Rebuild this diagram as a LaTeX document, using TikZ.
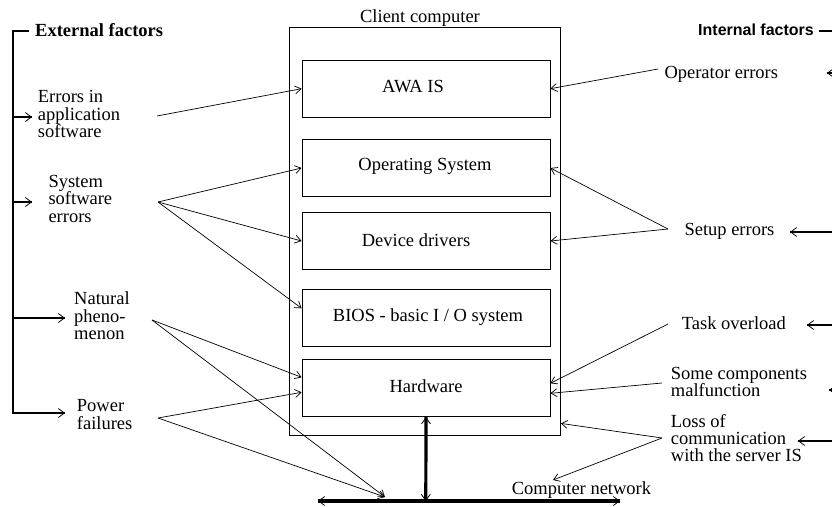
\documentclass[tikz,border=0pt]{standalone}
\usepackage{fontspec}
\setmainfont{Liberation Serif}
\newfontfamily\arialb{Liberation Sans}
\usetikzlibrary{arrows.meta,calc}
\begin{document}
\begin{tikzpicture}[x=1pt,y=-1pt,
  txt/.style={inner sep=0pt, anchor=base west, align=left, font=\fontsize{18.5}{17.3}\selectfont},
  ctxt/.style={inner sep=0pt, anchor=base, font=\fontsize{18.5}{17.3}\selectfont},
  box/.style={draw, line width=0.8pt, minimum width=248pt, minimum height=57pt, inner sep=0pt},
  arr/.style={line width=0.7pt, -{Straight Barb[length=6pt,width=8pt]}},
  thk/.style={line width=2.8pt},
  tip/.style={line width=0.8pt, -{Straight Barb[length=6pt,width=9pt]}},
]
\useasboundingbox (0,0) rectangle (832,506);

% client computer
\node[draw, line width=0.8pt, minimum width=271pt, minimum height=408pt, inner sep=0pt] (client) at (425,231) {};
\node[ctxt] (clientlbl) at (420,22.7) {Client computer};

\node[box] (awa)  at (426,88.7) {};
\node[box] (os)   at (426,168) {};
\node[box] (dd)   at (426,241) {};
\node[box] (bios) at (426,318.3) {};
\node[box] (hw)   at (426,388.3) {};
\node[ctxt] (awat)  at (413,92.7) {AWA IS};
\node[ctxt] (ost)   at (425,170.7) {Operating System};
\node[ctxt] (ddt)   at (416,246.7) {Device drivers};
\node[ctxt] (biost) at (428,321.7) {BIOS - basic I / O system};
\node[ctxt] (hwt)   at (426,392.7) {Hardware};

% headings
\node[inner sep=0pt, anchor=base west, font=\fontsize{18.5}{17}\selectfont\bfseries] (ext) at (35,36.7) {External factors};
\node[inner sep=0pt, anchor=base west, font=\fontsize{16}{17}\arialb\bfseries] (int) at (698,35) {Internal factors};

% left factors (anchor = baseline of last line)
\node[txt] (app)  at (37.7,137.5) {Errors in\\application\\software};
\node[txt] (sys)  at (48.3,222) {System\\software\\errors};
\node[txt] (nat)  at (74,339.3) {Natural\\pheno-\\menon};
\node[txt] (pow)  at (76.7,429) {Power\\failures};

% right factors
\node[txt] (op)    at (664.3,78.3) {Operator errors};
\node[txt] (setup) at (684.3,235) {Setup errors};
\node[txt] (task)  at (681.7,329.3) {Task overload};
\node[txt] (comp)  at (670.7,396.7) {Some components\\malfunction};
\node[txt] (loss)  at (670.7,461.7) {Loss of\\communication\\with the server IS};
\node[txt] (netl)  at (511.7,494) {Computer network};

% arrow start coordinates
\coordinate (a0) at (157,116);
\coordinate (s0) at (158,202);
\coordinate (n0) at (152,320);
\coordinate (p0) at (158,418);
\coordinate (o0) at (658,69);
\coordinate (u0) at (668,229);
\coordinate (t0) at (668,324);
\coordinate (c0) at (662,383);
\coordinate (l0) at (662,438);
\coordinate (netpt) at (385,497);
\coordinate (nettip) at (553,480);

% thin arrows
\draw[arr] (a0) -- (awa.west);
\draw[arr] (s0) -- (os.west);
\draw[arr] (s0) -- (dd.west);
\draw[arr] (s0) -- ($(bios.west)+(0,-10)$);
\draw[arr] (n0) -- ($(hw.west)+(0,-11)$);
\draw[arr] (n0) -- (netpt);
\draw[arr] (p0) -- ($(hw.west)+(0,4)$);
\draw[arr] (p0) -- (netpt);
\draw[arr] (o0) -- (awa.east);
\draw[arr] (u0) -- (os.east);
\draw[arr] (u0) -- (dd.east);
\draw[arr] (t0) -- ($(hw.east)+(0,-5)$);
\draw[arr] (c0) -- ($(hw.east)+(0,5)$);
\draw[arr] (l0) -- ($(client.south east)+(0,-12)$);
\draw[arr] (l0) -- (nettip);

% network
\coordinate (netL) at (318,501);
\coordinate (netR) at (620,501);
\coordinate (netJ) at (425.8,501);
\draw[line width=3.2pt] (netL) -- (netR);
\draw[line width=3.2pt] (netJ) -- (hw.south);
\draw[tip] ($(netL)+(8,0)$) -- (netL);
\draw[tip] ($(netR)+(-8,0)$) -- (netR);
\draw[tip] ($(hw.south)+(0,8)$) -- (hw.south);
\draw[tip] ($(netJ)+(0,-8)$) -- (netJ);

% left bracket
\coordinate (Lt) at (13,31);
\coordinate (Ltt) at (29,31);
\coordinate (L1) at (13,117);
\coordinate (L2) at (13,202);
\coordinate (L3) at (13,318);
\coordinate (L4) at (13,413);
\coordinate (E1) at (32,117);
\coordinate (E2) at (32,202);
\coordinate (E3) at (65,318);
\coordinate (E4) at (65,413);
\draw[thk] (Ltt) -- (Lt) -- (L4) -- (E4);
\draw[thk] (L1) -- (E1);
\draw[thk] (L2) -- (E2);
\draw[thk] (L3) -- (E3);
\foreach \e in {E1,E2,E3,E4} \draw[tip] ($(\e)+(-7,0)$) -- (\e);

% right side
\coordinate (Rd0) at (819,31);
\coordinate (Rd1) at (832,31);
\draw[line width=2pt] (Rd0) -- (Rd1);
\coordinate (R1) at (832,73);  \coordinate (T1) at (827,73);
\coordinate (R2) at (832,232); \coordinate (T2) at (790,232);
\coordinate (R3) at (832,325); \coordinate (T3) at (807,325);
\coordinate (R4) at (832,390); \coordinate (T4) at (829,390);
\coordinate (R5) at (832,441); \coordinate (T5) at (798,441);
\foreach \r/\t in {R1/T1,R2/T2,R3/T3,R4/T4,R5/T5} {
  \draw[line width=2.5pt] (\r) -- (\t);
  \draw[tip] ($(\t)+(7,0)$) -- (\t);
}
\end{tikzpicture}
\end{document}
